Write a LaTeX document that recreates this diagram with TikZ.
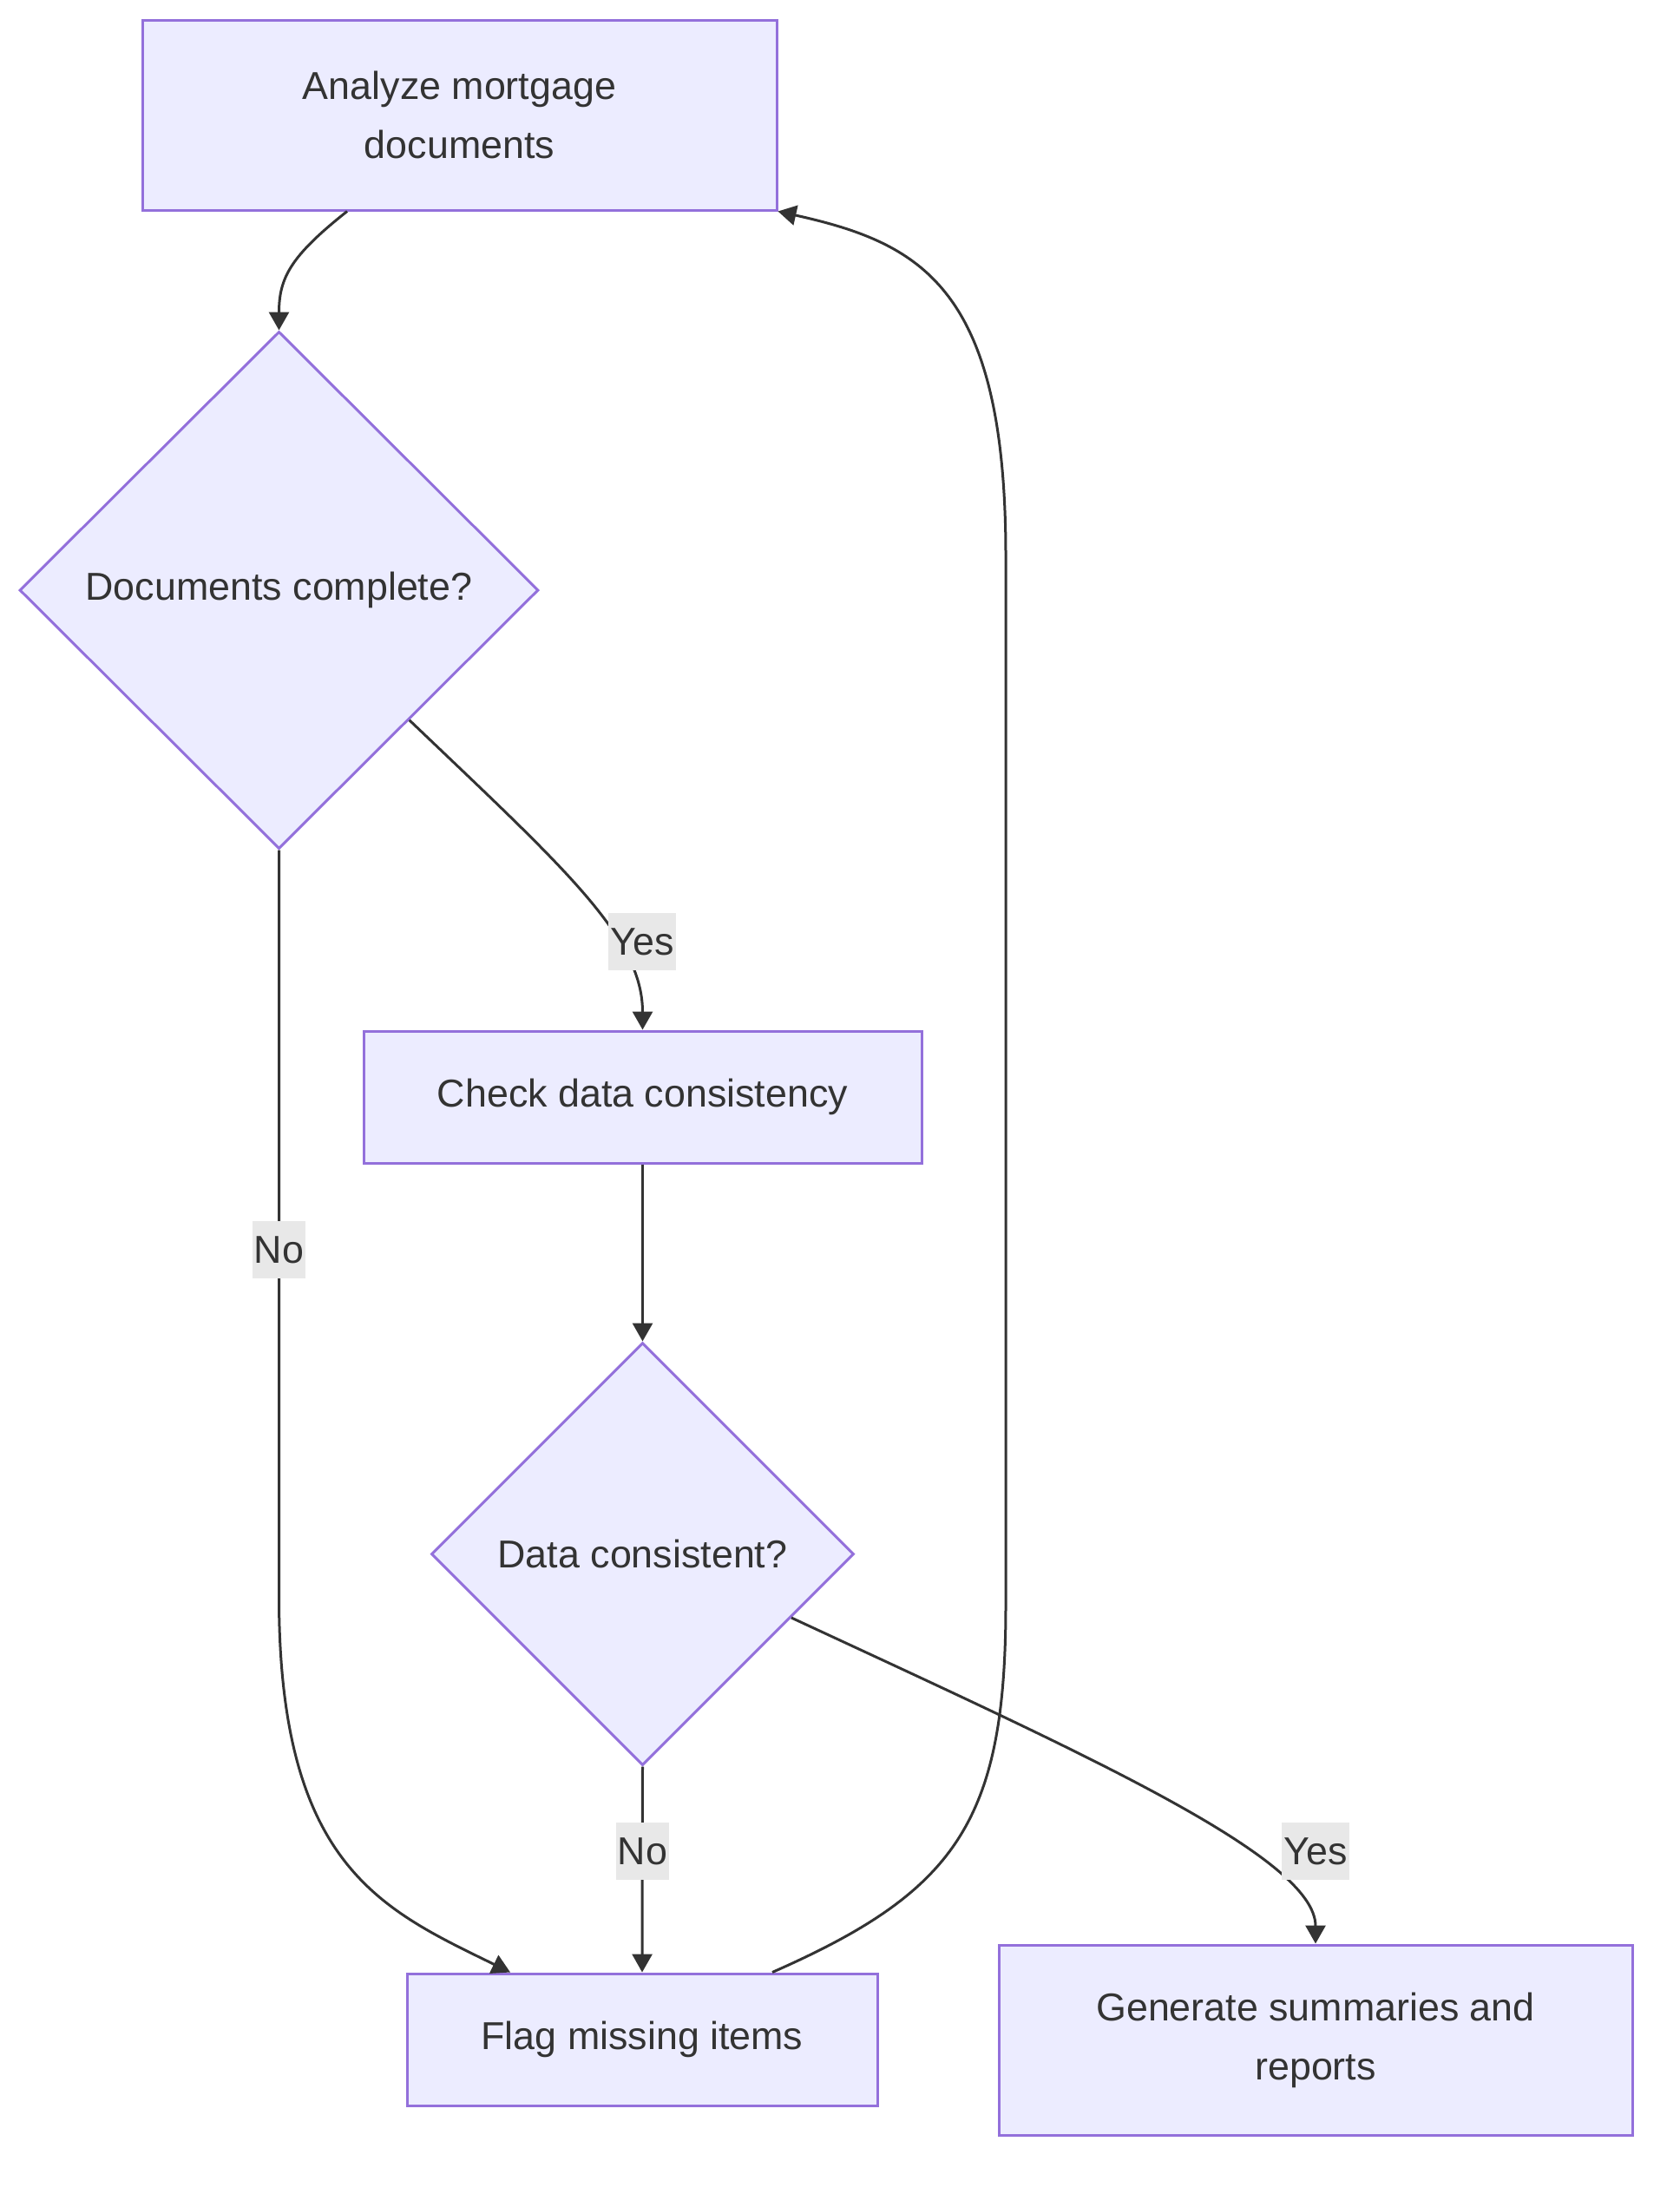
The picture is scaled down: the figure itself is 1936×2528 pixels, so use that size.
\documentclass[tikz,border=0pt]{standalone}
\usepackage{fontspec}
\setmainfont{Liberation Sans}
\usetikzlibrary{shapes.geometric,arrows.meta,calc}
\definecolor{nodefill}{HTML}{ECECFF}
\definecolor{nodeline}{HTML}{9370DB}
\definecolor{edgecol}{HTML}{333333}
\definecolor{lblfill}{HTML}{E8E8E8}
\begin{document}
\begin{tikzpicture}[x=0.5pt,y=-0.5pt,
  every node/.style={font=\fontsize{22.4pt}{34pt}\selectfont, text=edgecol},
  boxnode/.style={draw=nodeline, fill=nodefill, line width=1.5pt, rectangle, align=center, inner sep=0pt},
  decnode/.style={draw=nodeline, fill=nodefill, line width=1.5pt, diamond, align=center, inner sep=0pt},
  lblnode/.style={fill=lblfill, inner xsep=1pt, inner ysep=0pt, minimum height=33pt},
  edge/.style={draw=edgecol, line width=1.5pt, -{Triangle[length=10.5pt,width=11.5pt]}},
  plain/.style={draw=edgecol, line width=1.5pt}]
\useasboundingbox (0,0) rectangle (1936,2528);

\node[boxnode, minimum width=365.5pt, minimum height=109.5pt] (a) at (529.5,132.5) {Analyze mortgage\\documents};
\node[decnode, minimum width=299pt, minimum height=298pt] (d1) at (321.5,680) {Documents complete?};
\node[boxnode, minimum width=321.5pt, minimum height=76pt] (c) at (740.5,1264) {Check data consistency};
\node[decnode, minimum width=243.5pt, minimum height=243.5pt] (d2) at (740.5,1790.5) {Data consistent?};
\node[boxnode, minimum width=271pt, minimum height=76pt] (f) at (740,2350) {Flag missing items};
\node[boxnode, minimum width=365pt, minimum height=109.5pt] (g) at (1516,2350.5) {Generate summaries and\\reports};

% A -> D1
\draw[edge] ($(a.south)+(-129.5,0)$) .. controls (335,295) and (321.5,320) .. (d1.north);

% D1 -> C (Yes)
\draw[edge] ($(d1.east)!0.5!(d1.south)$) .. controls (650,1000) and (740.5,1080) .. (c.north);
\node[lblnode] (yes1) at (740,1085) {Yes};

% D1 -> F (No)
\coordinate (n1) at (321.5,1840);
\draw[edge] (d1.south) -- (n1) .. controls (321.5,2150) and (440,2200) .. ($(f.north)+(-152,0)$);
\node[lblnode] (no1) at (321.5,1440) {No};

% C -> D2
\draw[edge] (c.south) -- (d2.north);

% D2 -> F (No)
\draw[edge] (d2.south) -- (f.north);
\node[lblnode] (no2) at (740.5,2133) {No};

% D2 -> G (Yes)
\draw[edge] ($(d2.east)!0.3!(d2.south)$) .. controls (1250,2021) and (1516,2140) .. (g.north);
\node[lblnode] (yes2) at (1516,2133) {Yes};

% F -> A (loop)
\coordinate (l1) at (1159,1850);
\coordinate (l2) at (1159,640);
\draw[edge] ($(f.north)+(150,0)$) .. controls (1100,2180) and (1159,2100) .. (l1) -- (l2) .. controls (1159,330) and (1060,280) .. (a.south east);
\end{tikzpicture}
\end{document}
